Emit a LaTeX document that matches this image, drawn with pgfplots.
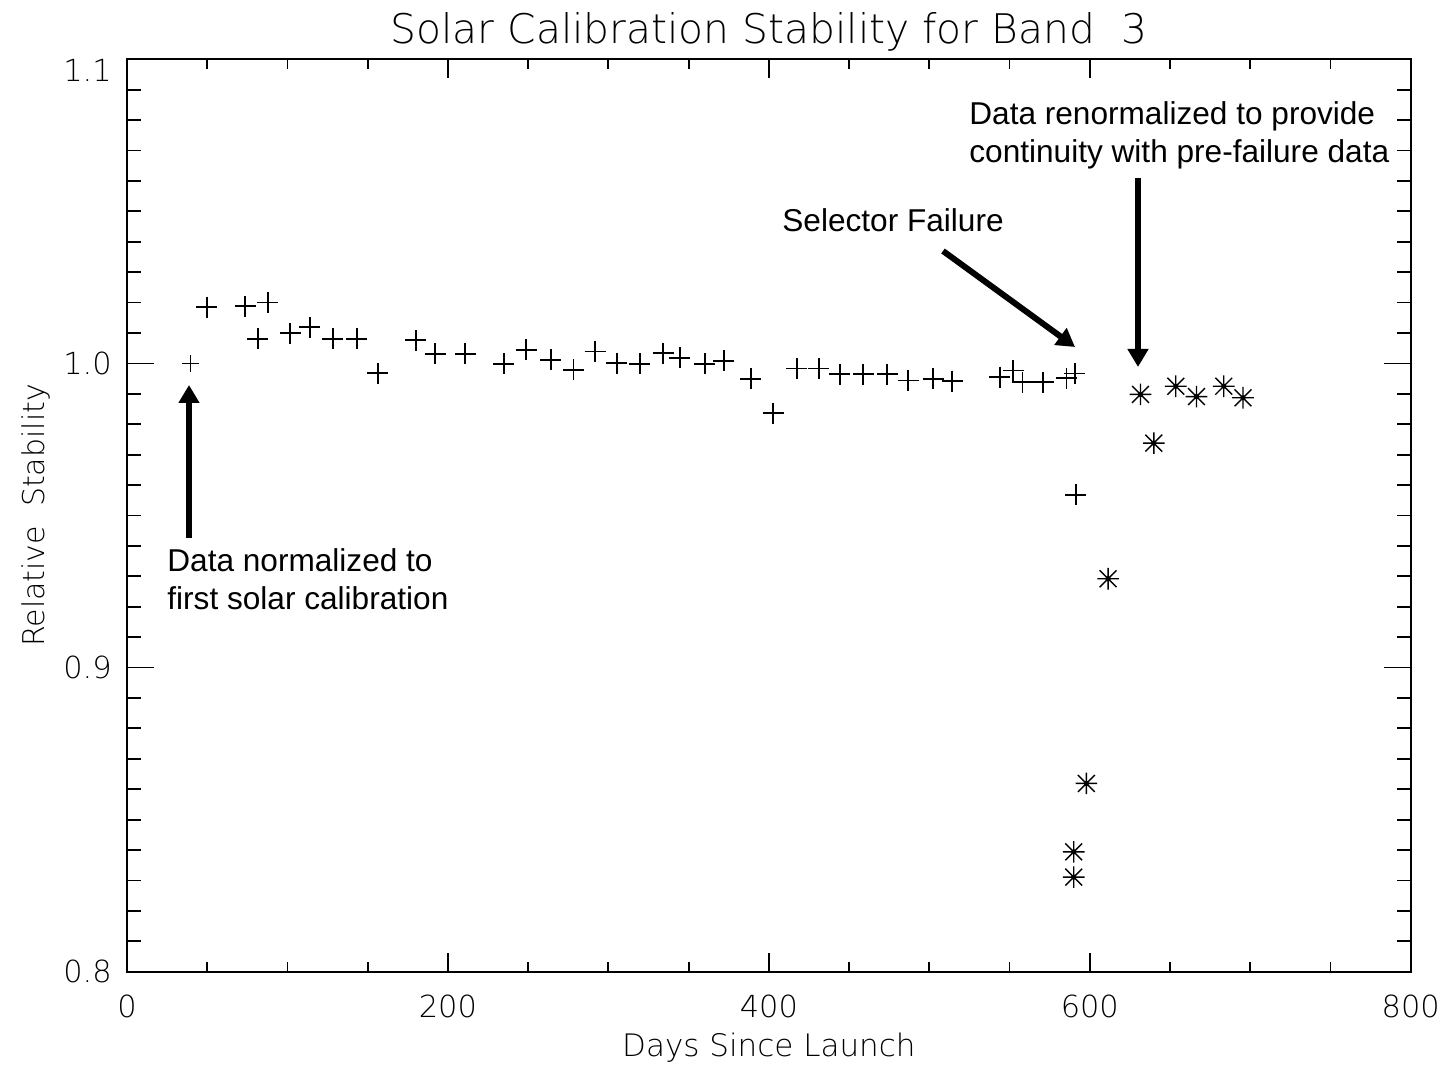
\documentclass[border=0pt]{standalone}
\usepackage{fontspec}
\setmainfont{Liberation Sans}
\newfontfamily\hershey{DejaVu Sans ExtraLight}
\usepackage{pgfplots}
\pgfplotsset{compat=1.18}
\usetikzlibrary{arrows.meta}

\pgfdeclareplotmark{star8}{%
  \pgfpathmoveto{\pgfqpoint{-\pgfplotmarksize}{0pt}}\pgfpathlineto{\pgfqpoint{\pgfplotmarksize}{0pt}}%
  \pgfpathmoveto{\pgfqpoint{0pt}{-\pgfplotmarksize}}\pgfpathlineto{\pgfqpoint{0pt}{\pgfplotmarksize}}%
  \pgfpathmoveto{\pgfqpoint{-0.78\pgfplotmarksize}{-0.78\pgfplotmarksize}}\pgfpathlineto{\pgfqpoint{0.78\pgfplotmarksize}{0.78\pgfplotmarksize}}%
  \pgfpathmoveto{\pgfqpoint{-0.78\pgfplotmarksize}{0.78\pgfplotmarksize}}\pgfpathlineto{\pgfqpoint{0.78\pgfplotmarksize}{-0.78\pgfplotmarksize}}%
  \pgfusepathqstroke
  \pgfpathcircle{\pgfpointorigin}{1.3pt}\pgfusepathqfill}

\pgfplotstableread{
x y
49.8 1.0185
73.7 1.0188
81.6 1.0081
87.7 1.0200
101.7 1.0100
113.8 1.0119
128.2 1.0081
143.3 1.0081
156.2 0.9968
180.1 1.0076
192.1 1.0032
210.8 1.0032
234.7 0.9999
248.8 1.0045
264.2 1.0012
278.3 0.9979
291.8 1.0039
305.3 1.0001
319.6 0.9999
334.1 1.0034
344.5 1.0019
360.1 0.9999
372.0 1.0008
388.8 0.9950
402.7 0.9837
417.3 0.9983
431.2 0.9983
444.2 0.9964
458.8 0.9964
473.7 0.9964
486.8 0.9944
502.4 0.9950
514.2 0.9942
543.9 0.9955
552.2 0.9977
558.1 0.9938
570.9 0.9938
585.5 0.9951
590.7 0.9967
591.3 0.9568
}\prefailure

\pgfplotstableread{
x y
590.0 0.8311
590.0 0.8394
597.9 0.8619
611.4 0.9292
631.6 0.9898
639.9 0.9738
653.6 0.9925
666.5 0.9891
683.5 0.9925
695.5 0.9887
}\renorm

\begin{document}
\begin{tikzpicture}
\useasboundingbox (0,0) rectangle (721pt,533pt);
\pgfplotsset{common/.style={
  at={(63.5pt,47.15pt)}, anchor=south west,
  scale only axis, width=641.85pt, height=456.2pt,
  xmin=0, xmax=800, ymin=0.8, ymax=1.1,
  tick align=inside,
  axis line style={line width=0.9pt},
  tick style={line width=0.9pt, black},
  clip=false,
}}
% x ticks
\begin{axis}[common,
  xtick={0,200,400,600,800},
  xticklabels={0,200,400,600,800},
  minor x tick num=3,
  ytick=\empty,
  major tick length=9.5pt, minor tick length=4.75pt,
  xticklabel style={font={\hershey\fontsize{15.2}{18}\selectfont}, anchor=north, inner sep=0pt, yshift=-11.65pt},
  xlabel={Days Since Launch},
  xlabel style={font={\hershey\fontsize{15.5}{18}\selectfont}, at={(axis description cs:0.5,-0.0924)}, anchor=base, inner sep=0pt},
]
\end{axis}
% y ticks and data
\begin{axis}[common,
  xtick=\empty,
  ytick={0.8,0.9,1.0,1.1},
  yticklabels={0.8,0.9,1.0,{\raisebox{-11.2pt}[0pt][0pt]{1.1}}},
  minor y tick num=9,
  major tick length=13.5pt, minor tick length=7pt,
  yticklabel style={font={\hershey\fontsize{15.2}{18}\selectfont}, anchor=east, inner sep=0pt, xshift=-7.5pt},
  ylabel={Relative\ \ Stability},
  ylabel style={font={\hershey\fontsize{15}{18}\selectfont}, at={(axis description cs:-0.0645,0.5)}, anchor=base, inner sep=0pt, rotate=0},
  title={Solar Calibration Stability for Band\ \ 3},
  title style={font={\hershey\fontsize{20.4}{24}\selectfont}, at={(axis description cs:0.5,1.0042)}, anchor=base, inner sep=0pt},
]
\addplot[only marks, mark=+, mark size=4.2pt, mark options={line width=0.6pt, black}] coordinates {(39.5,1.0)};
\addplot[only marks, mark=+, mark size=5.25pt, mark options={line width=0.9pt, black}] table[x=x,y=y] {\prefailure};
\addplot[only marks, mark=star8, mark size=5.4pt, mark options={line width=0.7pt, black}] table[x=x,y=y] {\renorm};
\end{axis}
% annotations
\begin{scope}[font=\fontsize{15.8}{19}\selectfont]
\node[anchor=base west, inner sep=0pt] at (83.5pt,247.15pt) {Data normalized to};
\node[anchor=base west, inner sep=0pt] at (83.5pt,228pt) {first solar calibration};
\node[anchor=base west, inner sep=0pt] at (391pt,417.15pt) {Selector Failure};
\node[anchor=base west, inner sep=0pt] at (484.5pt,470.75pt) {Data renormalized to provide};
\node[anchor=base west, inner sep=0pt] at (484.5pt,451.75pt) {continuity with pre-failure data};
\end{scope}
\draw[line width=3pt, -{Triangle[width=10pt,length=9pt]}] (94.5pt,264pt) -- (94.5pt,340.5pt);
\draw[line width=3pt, -{Triangle[width=10pt,length=9pt]}] (471.5pt,407.5pt) -- (537.5pt,359.5pt);
\draw[line width=3pt, -{Triangle[width=10pt,length=9pt]}] (569pt,444pt) -- (569pt,349.5pt);
\end{tikzpicture}
\end{document}
